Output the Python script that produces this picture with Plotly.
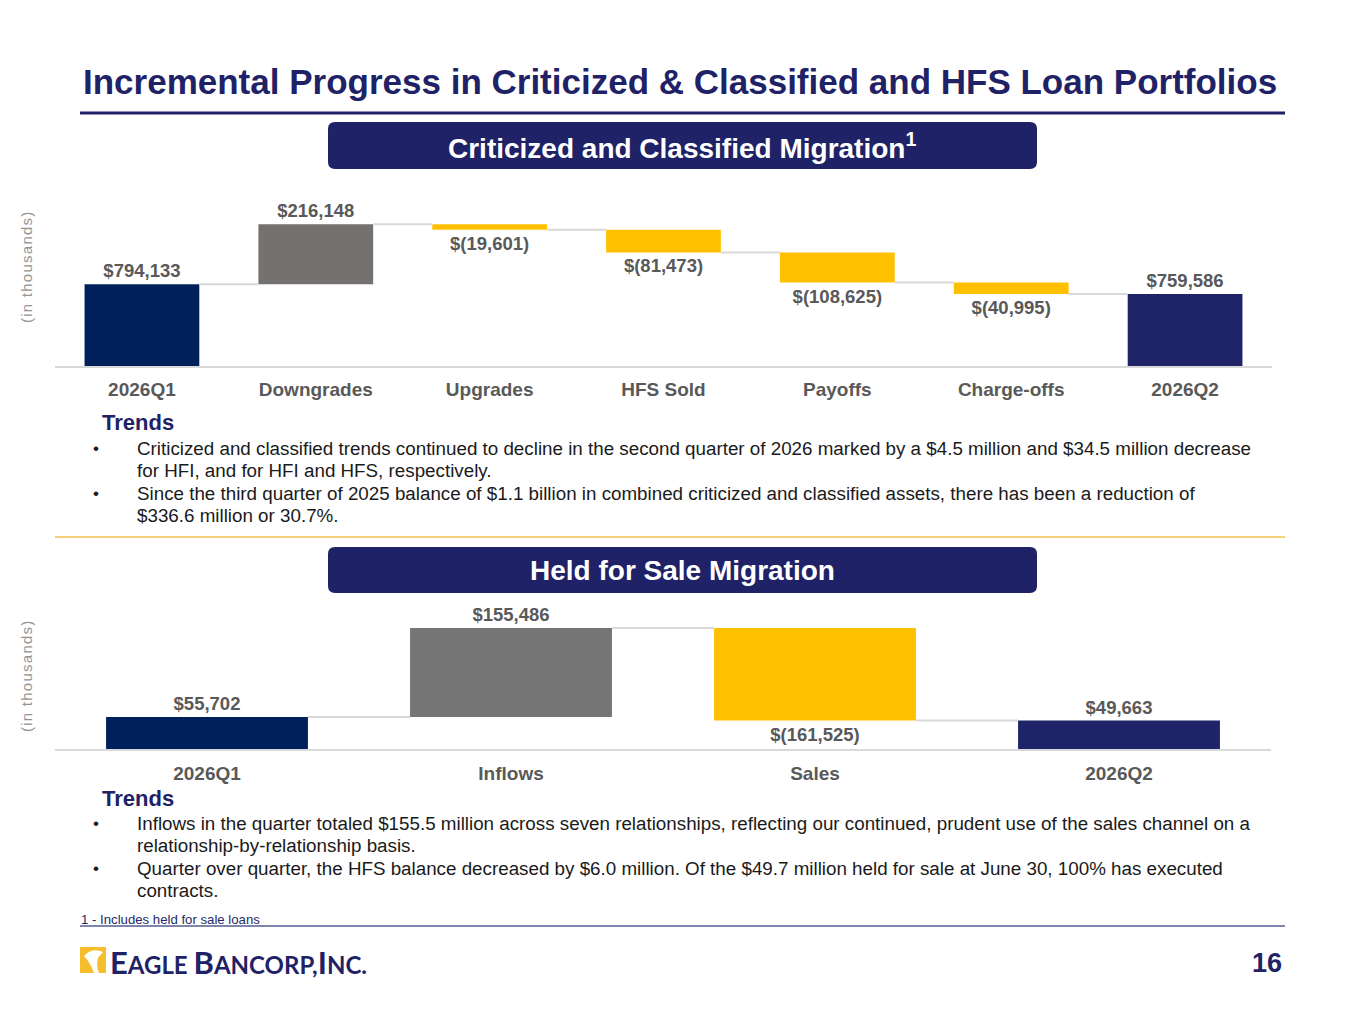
import plotly.graph_objects as go

# The page adds an 8px body margin; the figure is sized so that it ends at the window edge.
OFF = 8
FW, FH = 1365 - OFF, 1024 - OFF

# ---------------- data ----------------
cc_categories = ["2026Q1", "Downgrades", "Upgrades", "HFS Sold", "Payoffs", "Charge-offs", "2026Q2"]
cc_values = [794133, 216148, -19601, -81473, -108625, -40995, 759586]
cc_kinds = ["total", "up", "down", "down", "down", "down", "total"]
cc_colors = ["#00205B", "#767171", "#FFC000", "#FFC000", "#FFC000", "#FFC000", "#1F2367"]

hfs_categories = ["2026Q1", "Inflows", "Sales", "2026Q2"]
hfs_values = [55702, 155486, -161525, 49663]
hfs_kinds = ["total", "up", "down", "total"]
hfs_colors = ["#00205B", "#757575", "#FFC000", "#1F2367"]

NAVY = "#1F2266"
LBL = "#595959"
FONT = "Liberation Sans, Arial, sans-serif"


def px(x):
    return (x - OFF) / FW


def py(y):
    return 1 - (y - OFF) / FH


def fmt(v):
    return f"${v:,}" if v >= 0 else f"$({-v:,})"


def waterfall_geom(values, kinds):
    bases, heights, levels = [], [], []
    run = 0
    for v, k in zip(values, kinds):
        if k == "total":
            bases.append(0)
            heights.append(v)
            run = v
        else:
            bases.append(run)
            heights.append(v)
            run = run + v
        levels.append(run)
    return bases, heights, levels


fig = go.Figure()


def add_chart(cats, values, kinds, colors, xa, ya, width):
    bases, heights, levels = waterfall_geom(values, kinds)
    n = len(cats)
    fig.add_trace(go.Bar(
        x=list(range(n)), y=heights, base=bases, width=width,
        marker=dict(color=colors, line=dict(width=0)),
        text=[fmt(v) for v in values], textposition="outside",
        texttemplate="%{text}", cliponaxis=False, constraintext="none",
        textfont=dict(family=FONT, size=18.5, color=LBL, weight="bold"),
        xaxis=xa, yaxis=ya, showlegend=False, hoverinfo="skip",
    ))
    # connectors
    cx, cy = [], []
    for i in range(n - 1):
        cx += [i + width / 2, i + 1 - width / 2, None]
        cy += [levels[i], levels[i], None]
    fig.add_trace(go.Scatter(
        x=cx, y=cy, mode="lines", line=dict(color="#D9D9D9", width=2),
        xaxis=xa, yaxis=ya, showlegend=False, hoverinfo="skip",
    ))


add_chart(cc_categories, cc_values, cc_kinds, cc_colors, "x", "y", 0.66)
add_chart(hfs_categories, hfs_values, hfs_kinds, hfs_colors, "x2", "y2", 0.664)

axis_common = dict(showgrid=False, zeroline=False, ticks="", fixedrange=True)

fig.update_layout(
    width=FW, height=FH, margin=dict(l=0, r=0, t=0, b=0),
    paper_bgcolor="white", plot_bgcolor="rgba(0,0,0,0)",
    barmode="overlay",
    xaxis=dict(domain=[px(55), px(1272)], range=[-0.5, len(cc_categories) - 0.5],
               tickvals=list(range(len(cc_categories))), ticktext=cc_categories,
               showline=True, linecolor="#D9D9D9", linewidth=2, ticklabelstandoff=5,
               tickfont=dict(family=FONT, size=19, color=LBL, weight="bold"), anchor="y",
               **axis_common),
    yaxis=dict(domain=[py(366), py(190)], range=[500000, 1134000], showticklabels=False,
               anchor="x", **axis_common),
    xaxis2=dict(domain=[px(55), px(1271)], range=[-0.5, len(hfs_categories) - 0.5],
                tickvals=list(range(len(hfs_categories))), ticktext=hfs_categories,
                showline=True, linecolor="#D9D9D9", linewidth=2, ticklabelstandoff=6,
                tickfont=dict(family=FONT, size=19, color=LBL, weight="bold"), anchor="y2",
                **axis_common),
    yaxis2=dict(domain=[py(749), py(595)], range=[0, 269000], showticklabels=False,
                anchor="x2", **axis_common),
)

shapes = []
annotations = []


def line(x0, y0, x1, y1, color, width):
    shapes.append(dict(type="line", xref="paper", yref="paper",
                       x0=px(x0), y0=py(y0), x1=px(x1), y1=py(y1),
                       line=dict(color=color, width=width)))


def rounded_box(x0, y0, x1, y1, r, color):
    path = (f"M {px(x0 + r)} {py(y0)} L {px(x1 - r)} {py(y0)} "
            f"Q {px(x1)} {py(y0)} {px(x1)} {py(y0 + r)} "
            f"L {px(x1)} {py(y1 - r)} Q {px(x1)} {py(y1)} {px(x1 - r)} {py(y1)} "
            f"L {px(x0 + r)} {py(y1)} Q {px(x0)} {py(y1)} {px(x0)} {py(y1 - r)} "
            f"L {px(x0)} {py(y0 + r)} Q {px(x0)} {py(y0)} {px(x0 + r)} {py(y0)} Z")
    shapes.append(dict(type="path", xref="paper", yref="paper", path=path,
                       fillcolor=color, line=dict(width=0), layer="below"))


def text(x, y, s, size, color, bold=False, xanchor="left", family=FONT, angle=0):
    annotations.append(dict(xref="paper", yref="paper", x=px(x), y=py(y), text=s,
                            showarrow=False, xanchor=xanchor, yanchor="middle",
                            textangle=angle,
                            font=dict(family=family, size=size, color=color,
                                      weight="bold" if bold else "normal")))


# title
text(81, 82, "Incremental Progress in Criticized &amp; Classified and HFS Loan Portfolios", 35, NAVY, bold=True)
line(80, 113, 1285, 113, NAVY, 3)

# section headers
rounded_box(328, 122, 1037, 169, 7, NAVY)
text(682, 146, "Criticized and Classified Migration<sup>1</sup>", 28, "white", bold=True, xanchor="center")
rounded_box(328, 547, 1037, 593, 7, NAVY)
text(682, 570, "Held for Sale Migration", 28, "white", bold=True, xanchor="center")

# y labels
spaced = "\u200a".join("(in thousands)")
text(26, 268, spaced, 15, "#949494", angle=-90, xanchor="center")
text(26, 677, spaced, 15, "#949494", angle=-90, xanchor="center")

# trends
TXT = "#1A1A1A"
top_lines = [
    (448, True, "Criticized and classified trends continued to decline in the second quarter of 2026 marked by a $4.5 million and $34.5 million decrease"),
    (470, False, "for HFI, and for HFI and HFS, respectively."),
    (493, True, "Since the third quarter of 2025 balance of $1.1 billion in combined criticized and classified assets, there has been a reduction of"),
    (515, False, "$336.6 million or 30.7%."),
]
bot_lines = [
    (823, True, "Inflows in the quarter totaled $155.5 million across seven relationships, reflecting our continued, prudent use of the sales channel on a"),
    (845, False, "relationship-by-relationship basis."),
    (868, True, "Quarter over quarter, the HFS balance decreased by $6.0 million. Of the $49.7 million held for sale at June 30, 100% has executed"),
    (890, False, "contracts."),
]
for ty, lines in ((423, top_lines), (798, bot_lines)):
    text(100, ty, "Trends", 22, NAVY, bold=True)
    for y, bullet, s in lines:
        if bullet:
            text(96, y, "•", 17, TXT, xanchor="center")
        text(135, y, s, 18.8, TXT)

# separator
line(55, 537, 1285, 537, "#F2C14E", 1.5)

# footnote
text(79, 919, "1 - Includes held for sale loans", 13.2, "#252A66")
line(80, 926, 1285, 926, "#7F86AE", 2)

# logo
shapes.append(dict(type="rect", xref="paper", yref="paper", x0=px(80), y0=py(973), x1=px(106), y1=py(947),
                   fillcolor="#F6BE2C", line=dict(width=0)))
shapes.append(dict(type="path", xref="paper", yref="paper",
                   path=f"M {px(84)} {py(956)} Q {px(92)} {py(947)} {px(103)} {py(952)} L {px(98)} {py(958)} Q {px(96)} {py(966)} {px(99)} {py(973)} L {px(94)} {py(973)} Q {px(90)} {py(962)} {px(84)} {py(956)} Z",
                   fillcolor="white", line=dict(width=0)))
logo = ("<span style='font-size:31px'>E</span>AGLE "
        "<span style='font-size:31px'>B</span>ANCORP,"
        "<span style='font-size:31px'>I</span>NC.")
text(108, 962, logo, 24, NAVY, bold=True, family="Lato, Liberation Sans, sans-serif")

# page number
text(1284, 963, "16", 27, NAVY, bold=True, xanchor="right")

fig.update_layout(shapes=shapes, annotations=annotations)
fig.write_html("out.html")
